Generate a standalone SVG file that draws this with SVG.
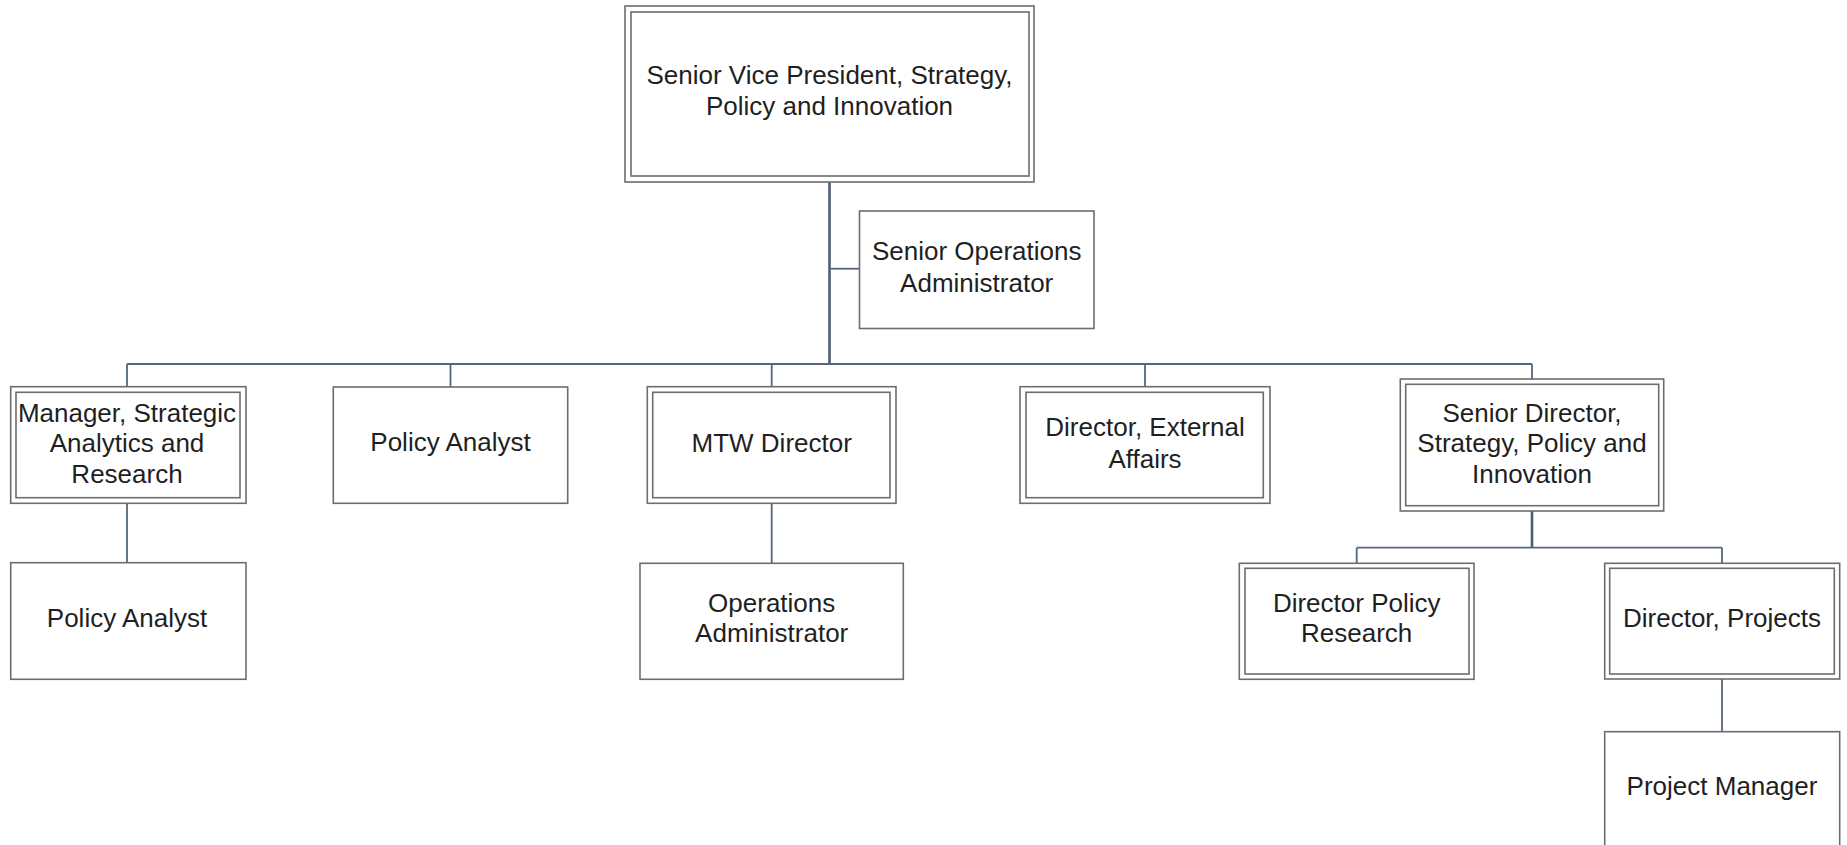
<svg xmlns="http://www.w3.org/2000/svg" width="1847" height="845" viewBox="0 0 1847 845">
  <style>
    .box { fill: #ffffff; stroke: #6d6d6d; stroke-width: 1.6; }
    .inner { fill: none; stroke: #6d6d6d; stroke-width: 1.6; }
    .lbl { font-family: "Liberation Sans", Arial, sans-serif; font-size: 26px; fill: #1f1f1f; text-anchor: middle; }
    .conn { fill: none; stroke: #56667c; stroke-width: 1.8; }
    .trunk { fill: none; stroke: #4e5d74; stroke-width: 2.6; }
  </style>
  <rect width="1847" height="845" fill="#ffffff"/>

  <!-- reporting lines -->
  <g id="connectors">
    <path class="trunk" d="M829.5 182 V364"/>
    <path class="conn" d="M829.5 268.7 H859.5"/>
    <path class="conn" d="M127 364 H1532"/>
    <path class="conn" d="M127 364 V386.7 M450.5 364 V387 M771.7 364 V386.7 M1145 364 V386.7 M1532 364 V379"/>
    <path class="conn" d="M127 503.3 V562.7"/>
    <path class="conn" d="M771.7 503.3 V563.3"/>
    <path class="trunk" d="M1532 511 V547.7"/>
    <path class="conn" d="M1356.7 547.7 H1722 M1356.7 547.7 V563.3 M1722 547.7 V563.3"/>
    <path class="conn" d="M1722 679 V731.7"/>
  </g>

  <g id="svp">
    <rect class="box" x="625" y="6" width="409" height="176"/>
    <rect class="inner" x="631" y="12" width="398" height="164"/>
    <text class="lbl" x="829.5" y="84">Senior Vice President, Strategy,</text>
    <text class="lbl" x="829.5" y="115">Policy and Innovation</text>
  </g>

  <g id="senior-ops-admin">
    <rect class="box" x="859.5" y="211" width="234.5" height="117.5"/>
    <text class="lbl" x="976.7" y="260">Senior Operations</text>
    <text class="lbl" x="976.7" y="291.5">Administrator</text>
  </g>

  <g id="manager-analytics">
    <rect class="box" x="10.7" y="386.7" width="235.3" height="116.6"/>
    <rect class="inner" x="16" y="392.3" width="224" height="105.4"/>
    <text class="lbl" x="127" y="421.7">Manager, Strategic</text>
    <text class="lbl" x="127" y="452">Analytics and</text>
    <text class="lbl" x="127" y="482.5">Research</text>
  </g>

  <g id="policy-analyst-1">
    <rect class="box" x="333.3" y="387" width="234.4" height="116.3"/>
    <text class="lbl" x="450.5" y="450.7">Policy Analyst</text>
  </g>

  <g id="mtw-director">
    <rect class="box" x="647.3" y="386.7" width="248.7" height="116.6"/>
    <rect class="inner" x="652.7" y="392.3" width="237.3" height="105.4"/>
    <text class="lbl" x="771.7" y="451.7">MTW Director</text>
  </g>

  <g id="director-external">
    <rect class="box" x="1020" y="386.7" width="250" height="116.6"/>
    <rect class="inner" x="1026" y="392.3" width="237.3" height="105.4"/>
    <text class="lbl" x="1145" y="436">Director, External</text>
    <text class="lbl" x="1145" y="467.5">Affairs</text>
  </g>

  <g id="senior-director">
    <rect class="box" x="1400.3" y="379" width="263.4" height="132"/>
    <rect class="inner" x="1405.7" y="384.3" width="253" height="121.4"/>
    <text class="lbl" x="1532" y="421.7">Senior Director,</text>
    <text class="lbl" x="1532" y="452">Strategy, Policy and</text>
    <text class="lbl" x="1532" y="483">Innovation</text>
  </g>

  <g id="policy-analyst-2">
    <rect class="box" x="10.7" y="562.7" width="235.3" height="116.6"/>
    <text class="lbl" x="127" y="626.7">Policy Analyst</text>
  </g>

  <g id="operations-admin">
    <rect class="box" x="640" y="563.3" width="263.3" height="116"/>
    <text class="lbl" x="771.7" y="611.7">Operations</text>
    <text class="lbl" x="771.7" y="641.7">Administrator</text>
  </g>

  <g id="director-policy-research">
    <rect class="box" x="1239.3" y="563.3" width="234.7" height="116"/>
    <rect class="inner" x="1245" y="568.3" width="224" height="105.7"/>
    <text class="lbl" x="1356.7" y="611.7">Director Policy</text>
    <text class="lbl" x="1356.7" y="641.7">Research</text>
  </g>

  <g id="director-projects">
    <rect class="box" x="1604.7" y="563.3" width="235" height="115.7"/>
    <rect class="inner" x="1609.7" y="568.3" width="224.6" height="105.7"/>
    <text class="lbl" x="1722" y="626.7">Director, Projects</text>
  </g>

  <g id="project-manager">
    <rect class="box" x="1604.7" y="731.7" width="235" height="116.3"/>
    <text class="lbl" x="1722" y="795">Project Manager</text>
  </g>
</svg>
